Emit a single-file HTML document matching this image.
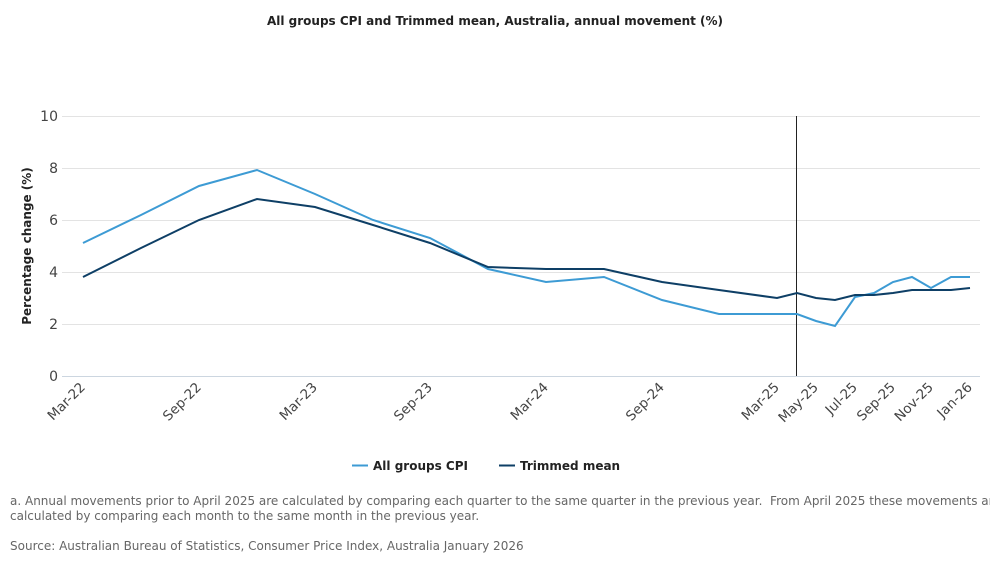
<!DOCTYPE html>
<html><head><meta charset="utf-8"><style>
body{margin:0;background:#fff;font-family:"DejaVu Sans","Liberation Sans",sans-serif;}
svg{display:block}
</style></head><body>
<svg width="990" height="570" xmlns="http://www.w3.org/2000/svg" font-family="DejaVu Sans, Liberation Sans, sans-serif">
<text x="495" y="25" text-anchor="middle" font-size="12" font-weight="bold" fill="#222">All groups CPI and Trimmed mean, Australia, annual movement (%)</text>
<g stroke="#e3e3e3" stroke-width="1">
<line x1="62" x2="980" y1="116.5" y2="116.5"/><line x1="62" x2="980" y1="168.5" y2="168.5"/>
<line x1="62" x2="980" y1="220.5" y2="220.5"/><line x1="62" x2="980" y1="272.5" y2="272.5"/>
<line x1="62" x2="980" y1="324.5" y2="324.5"/>
</g>
<line x1="62" x2="980" y1="376.5" y2="376.5" stroke="#ccd6e0"/>
<g font-size="14" fill="#444" text-anchor="end">
<text x="58" y="121">10</text><text x="58" y="173">8</text><text x="58" y="225">6</text>
<text x="58" y="277">4</text><text x="58" y="329">2</text><text x="58" y="381">0</text>
</g>
<text transform="translate(31,246) rotate(-90)" text-anchor="middle" font-size="12" font-weight="bold" fill="#222">Percentage change (%)</text>
<line x1="796.5" x2="796.5" y1="116" y2="376" stroke="#222" stroke-width="1"/>
<g font-size="13.5" fill="#444" text-anchor="end">
<text transform="translate(86,388) rotate(-45)">Mar-22</text>
<text transform="translate(202,388) rotate(-45)">Sep-22</text>
<text transform="translate(318,388) rotate(-45)">Mar-23</text>
<text transform="translate(433,388) rotate(-45)">Sep-23</text>
<text transform="translate(549,388) rotate(-45)">Mar-24</text>
<text transform="translate(665,388) rotate(-45)">Sep-24</text>
<text transform="translate(780,388) rotate(-45)">Mar-25</text>
<text transform="translate(819,388) rotate(-45)">May-25</text>
<text transform="translate(858,388) rotate(-45)">Jul-25</text>
<text transform="translate(896,388) rotate(-45)">Sep-25</text>
<text transform="translate(934,388) rotate(-45)">Nov-25</text>
<text transform="translate(973,388) rotate(-45)">Jan-26</text>
</g>
<polyline fill="none" stroke="#3d9bd4" stroke-width="2" points="83,243 141,215 199,186 257,170 315,194 373,220 430,238 488,269 546,282 604,277 662,300 719,314 777,314 797,314 816,321 835,326 855,297 874,293 893,282 912,277 931,288 951,277 970,277"/>
<polyline fill="none" stroke="#0e3f66" stroke-width="2" points="83,277 141,248 199,220 257,199 315,207 373,225 430,243 488,267 546,269 604,269 662,282 719,290 777,298 797,293 816,298 835,300 855,295 874,295 893,293 912,290 931,290 951,290 970,288"/>
<line x1="352" x2="368" y1="465.5" y2="465.5" stroke="#3d9bd4" stroke-width="2"/>
<text x="373" y="470" font-size="12" font-weight="bold" fill="#222">All groups CPI</text>
<line x1="499" x2="515" y1="465.5" y2="465.5" stroke="#0e3f66" stroke-width="2"/>
<text x="520" y="470" font-size="12" font-weight="bold" fill="#222">Trimmed mean</text>
<g font-size="12" fill="#666">
<text x="10" y="505">a. Annual movements prior to April 2025 are calculated by comparing each quarter to the same quarter in the previous year.&#160; From April 2025 these movements are</text>
<text x="10" y="520">calculated by comparing each month to the same month in the previous year.</text>
<text x="10" y="550">Source: Australian Bureau of Statistics, Consumer Price Index, Australia January 2026</text>
</g>
</svg>
</body></html>
